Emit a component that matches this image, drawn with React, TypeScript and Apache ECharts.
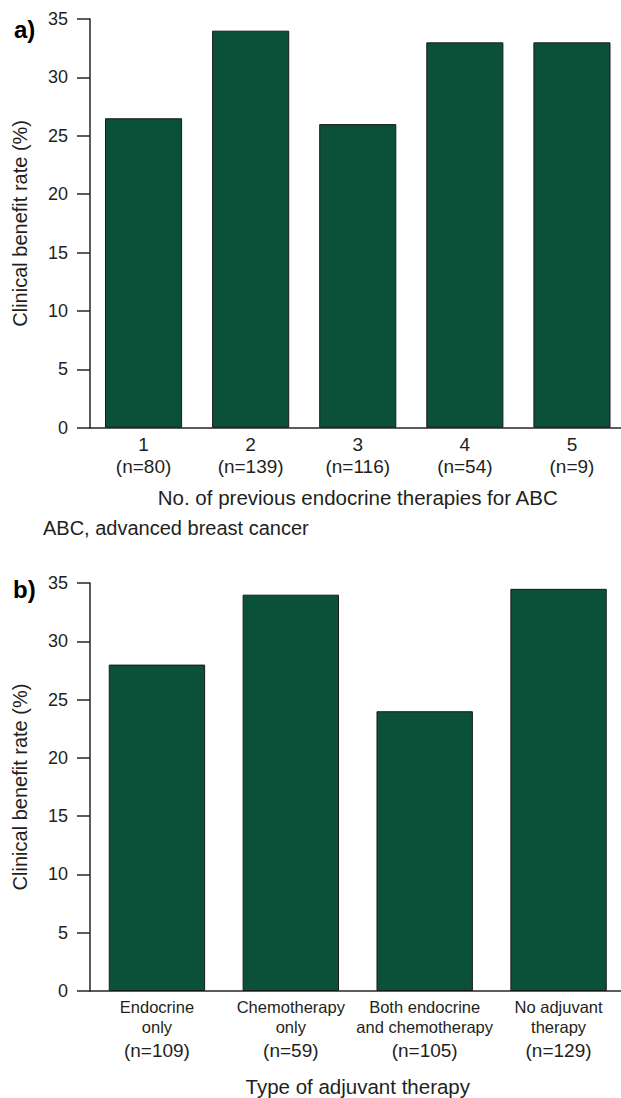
import React, { useEffect, useRef } from "react";
import * as echarts from "echarts";

const catsA = ["1", "2", "3", "4", "5"];
const nA = [80, 139, 116, 54, 9];
const valuesA = [26.5, 34, 26, 33, 33];

const catsB = ["Endocrine\nonly", "Chemotherapy\nonly", "Both endocrine\nand chemotherapy", "No adjuvant\ntherapy"];
const nB = [109, 59, 105, 129];
const valuesB = [28, 34, 24, 34.5];

const yTicks = { min: 0, max: 35, interval: 5 };

const FONT = "'Liberation Sans', Arial, Helvetica, sans-serif";
const TEXT = "#231f20";
const BAR = "#0b5139";
const LINE = "#262626";

export default function App() {
  const ref = useRef<HTMLDivElement>(null);
  useEffect(() => {
    if (!ref.current) return;
    const chart = echarts.init(ref.current, undefined, { renderer: "svg" });
    const yAxisBase = (gridIndex: number) => ({
      type: "value",
      gridIndex,
      min: yTicks.min,
      max: yTicks.max,
      interval: yTicks.interval,
      name: "Clinical benefit rate (%)",
      nameLocation: "middle",
      nameRotate: 90,
      nameGap: 60,
      nameTextStyle: { fontFamily: FONT, fontSize: 20, color: TEXT },
      axisLine: { show: true, lineStyle: { color: LINE, width: 1.5 } },
      axisTick: { show: true, length: 13, lineStyle: { color: LINE, width: 1.5 } },
      axisLabel: { margin: 22, fontFamily: FONT, fontSize: 18, color: TEXT },
      splitLine: { show: false },
    });
    chart.setOption({
      animation: false,
      backgroundColor: "#ffffff",
      grid: [
        { left: 90, right: 4.5, top: 19, bottom: 1098 - 427.7 },
        { left: 90, right: 4.5, top: 583, bottom: 1098 - 991.7 },
      ],
      xAxis: [
        {
          type: "category",
          gridIndex: 0,
          data: catsA,
          name: "No. of previous endocrine therapies for ABC",
          nameLocation: "middle",
          nameGap: 59,
          nameTextStyle: { fontFamily: FONT, fontSize: 20.5, color: TEXT },
          axisLine: { lineStyle: { color: LINE, width: 1.5 } },
          axisTick: { show: false },
          axisLabel: {
            margin: 6,
            interval: 0,
            formatter: (v: string, i: number) => `{v|${v}}\n{v|(n=${nA[i]})}`,
            rich: {
              v: { fontFamily: FONT, fontSize: 19, lineHeight: 22, color: TEXT },
            },
          },
        },
        {
          type: "category",
          gridIndex: 1,
          data: catsB,
          name: "Type of adjuvant therapy",
          nameLocation: "middle",
          nameGap: 85,
          nameTextStyle: { fontFamily: FONT, fontSize: 20.5, color: TEXT },
          axisLine: { lineStyle: { color: LINE, width: 1.5 } },
          axisTick: { show: false },
          axisLabel: {
            margin: 6,
            interval: 0,
            formatter: (v: string, i: number) => `{c|${v}}\n{n|(n=${nB[i]})}`,
            rich: {
              c: { fontFamily: FONT, fontSize: 16.5, lineHeight: 20, color: TEXT },
              n: { fontFamily: FONT, fontSize: 19, lineHeight: 26, color: TEXT },
            },
          },
        },
      ],
      yAxis: [yAxisBase(0), yAxisBase(1)],
      series: [
        {
          type: "bar",
          xAxisIndex: 0,
          yAxisIndex: 0,
          data: valuesA,
          barWidth: "72%",
          itemStyle: { color: BAR, borderColor: "#1a1a1a", borderWidth: 1 },
        },
        {
          type: "bar",
          xAxisIndex: 1,
          yAxisIndex: 1,
          data: valuesB,
          barWidth: "72%",
          itemStyle: { color: BAR, borderColor: "#1a1a1a", borderWidth: 1 },
        },
      ],
      graphic: [
        {
          type: "text",
          left: 14,
          top: 17,
          style: { text: "a)", fontFamily: FONT, fontSize: 24, fontWeight: "bold", fill: "#000" },
        },
        {
          type: "text",
          left: 13,
          top: 577,
          style: { text: "b)", fontFamily: FONT, fontSize: 24, fontWeight: "bold", fill: "#000" },
        },
        {
          type: "text",
          left: 43,
          top: 518,
          style: { text: "ABC, advanced breast cancer", fontFamily: FONT, fontSize: 20, fill: TEXT },
        },
      ],
    });
    return () => chart.dispose();
  }, []);
  return (
    <div style={{ position: "absolute", left: 0, top: 0, width: 621, height: 1098, overflow: "hidden", background: "#fff" }}>
      <div ref={ref} style={{ width: 630, height: 1098 }} />
    </div>
  );
}
